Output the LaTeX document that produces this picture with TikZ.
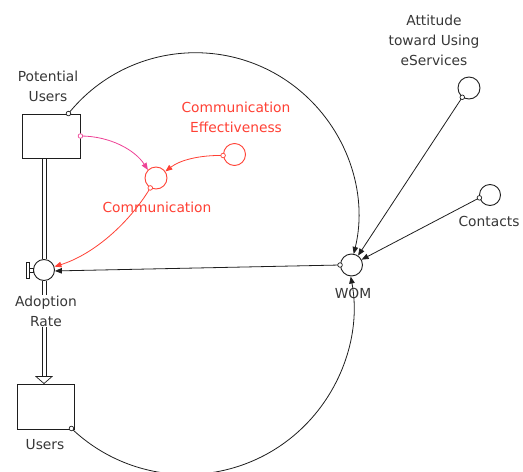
\documentclass[tikz,border=0pt]{standalone}
\usepackage{fontspec}
\setmainfont{DejaVu Sans}
\usetikzlibrary{arrows.meta,calc}
\definecolor{linegray}{RGB}{30,30,30}
\definecolor{labelgray}{RGB}{55,55,55}
\definecolor{sdred}{RGB}{255,64,52}
\definecolor{sdpink}{RGB}{238,66,150}

\begin{document}
\begin{tikzpicture}[x=1pt,y=-1pt,
  every node/.style={font=\fontsize{13.8}{20}\selectfont, text=labelgray},
  stock/.style={draw=linegray, line width=0.9pt, rectangle, inner sep=0pt},
  aux/.style={draw=linegray, line width=0.9pt, circle, inner sep=0pt, minimum size=22pt},
  lbl/.style={align=center, inner sep=1pt},
  link/.style={draw=linegray, line width=0.8pt, -{Triangle[length=7pt,width=5.5pt]}},
  src/.style={draw=linegray, fill=white, line width=0.7pt},
  pipeline/.style={draw=linegray, line width=0.7pt}]

\useasboundingbox (0,0) rectangle (523,472);

% stocks, flow valve and auxiliaries
\node[stock, minimum width=58pt, minimum height=44pt] (pu) at (51,136) {};
\node[stock, minimum width=57pt, minimum height=45pt] (us) at (45.5,406.5) {};
\node[aux, minimum size=21pt] (valve) at (44,270) {};
\node[aux, draw=sdred] (comm) at (156,178) {};
\node[aux, draw=sdred] (ce) at (234.5,154.5) {};
\node[aux] (wom) at (351.5,265) {};
\node[aux] (att) at (469,88) {};
\node[aux, minimum size=21pt] (cont) at (490,195) {};

% valve handle
\draw[linegray, line width=0.6pt, fill=white] (29,268.5) rectangle (valve.west |- 0,272);
\draw[linegray, line width=0.6pt, fill=white] (26,262) rectangle (29,278);

% flow pipe (two parallel walls) from Potential Users through the valve into Users
\coordinate (tip) at (us.north -| valve.south);
\foreach \dx in {-2,2} {
  \draw[pipeline] ([xshift=\dx pt]pu.south -| valve.north) -- ([xshift=\dx pt]valve.north);
  \draw[pipeline] ([xshift=\dx pt]valve.south) -- ($(tip)+(\dx,-7)$);
}
\draw[linegray, line width=0.7pt, fill=white]
  ($(tip)+(-8,-7)$) -- ($(tip)+(8,-7)$) -- (tip) -- cycle;

% labels
\node[lbl] (lpu) at (48,86) {Potential\\Users};
\node[lbl, fill=white] (lar) at (46,311) {Adoption\\Rate};
\node[lbl] (lus) at (45,445) {Users};
\node[lbl, text=sdred] (lce) at (236,117) {Communication\\Effectiveness};
\node[lbl, text=sdred] (lcomm) at (157,207) {Communication};
\node[lbl] (lwom) at (353,293) {WOM};
\node[lbl] (latt) at (434,40) {Attitude\\toward Using\\eServices};
\node[lbl] (lcont) at (489,221) {Contacts};

% Potential Users -> WOM (upper loop)
\coordinate (puout) at ([xshift=-12pt]pu.north east);
\draw[link] (puout) arc[start angle=141.2, end angle=-13.6, radius=162.9pt];
\path[src] (puout) circle[radius=2.3pt];

% Users -> WOM (lower loop)
\coordinate (usout) at ([xshift=-3pt,yshift=1pt]us.south east);
\draw[link] (usout) arc[start angle=226.4, end angle=370.7, radius=167pt];
\path[src] (usout) circle[radius=2.3pt];

% Potential Users -> Communication
\draw[link, draw=sdpink] (pu.east) .. controls (110,136) and (135,150) .. (comm.135);
\path[src, draw=sdpink] (pu.east) circle[radius=2.3pt];

% Communication Effectiveness -> Communication
\draw[link, draw=sdred] (ce.185) .. controls (200,155) and (180,160) .. (comm.35);
\path[src, draw=sdred] (ce.185) circle[radius=2.3pt];

% Communication -> Adoption Rate
\draw[link, draw=sdred] (comm.240) .. controls (128,225) and (92,255) .. (valve.18);
\path[src, draw=sdred] (comm.240) circle[radius=2.3pt];

% WOM -> Adoption Rate
\draw[link] (wom.west) -- (valve.-5);
\path[src] (wom.west) circle[radius=2.3pt];

% Attitude and Contacts -> WOM
\draw[link] (att.234) -- (wom.55);
\path[src] (att.234) circle[radius=2.3pt];
\draw[link] (cont.195) -- (wom.28);
\path[src] (cont.195) circle[radius=2.3pt];

\end{tikzpicture}
\end{document}
